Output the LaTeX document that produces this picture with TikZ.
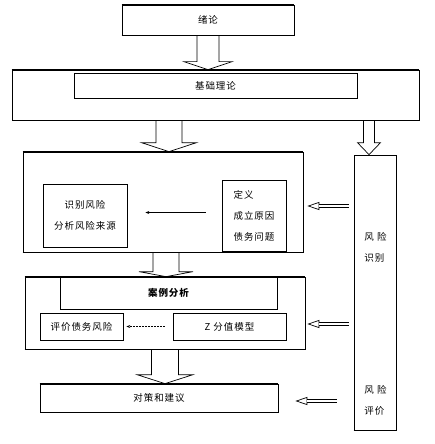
\documentclass[tikz,border=0pt]{standalone}
\usepackage{fontspec}
\setmainfont{Noto Sans CJK SC}[LetterSpace=10]
\usetikzlibrary{arrows.meta}

\newcommand{\diagfont}{\fontsize{9.5}{21}\selectfont}

\tikzset{
  box/.style={draw, line width=0.7pt, inner sep=0pt, font=\diagfont, align=center},
  txt/.style={inner sep=0pt, font=\diagfont, align=left},
  rim/.style={line width=1.6pt},
  blockarrow/.style={draw, line width=0.7pt},
  openhead/.style={line width=0.7pt, -{Triangle[open, length=12pt, width=8pt]}},
  dblshaft/.style={line width=1.2pt, double, double distance=1.2pt},
  thinarrow/.style={line width=0.5pt, -{Stealth[length=4pt, width=3pt]}},
}

% x, from node, to node, shaft half width, head half width, head length
\newcommand{\blockdown}[6]{%
  \coordinate (bs) at (#2.south -| #1, 0);
  \coordinate (bt) at (#3.north -| #1, 0);
  \draw[blockarrow] ([xshift=-#4pt]bs) -- ([xshift=-#4pt, yshift=#6pt]bt)
    -- ([xshift=-#5pt, yshift=#6pt]bt) -- (bt) -- ([xshift=#5pt, yshift=#6pt]bt)
    -- ([xshift=#4pt, yshift=#6pt]bt) -- ([xshift=#4pt]bs);
}

\begin{document}
\begin{tikzpicture}[x=1pt, y=-1pt]
  \useasboundingbox (0, 0) rectangle (434, 444);
  % boxes
  \node[box, minimum width=172pt, minimum height=30pt] (intro) at (208, 20) {绪论};
  \node[box, minimum width=407pt, minimum height=50pt] (base) at (215.5, 95) {};
  \node[box, minimum width=283pt, minimum height=25pt] (basein) at (215.5, 85.5) {基础理论};
  \node[box, minimum width=280pt, minimum height=100pt] (main) at (163, 202) {};
  \node[box, minimum width=84pt, minimum height=63pt] (ident) at (85, 215.5) {识别风险\\分析风险来源};
  \node[box, align=left, minimum width=64pt, minimum height=71pt] (defn) at (254, 215.5) {定义\\成立原因\\债务问题};
  \node[box, minimum width=42pt, minimum height=275pt] (risk) at (375, 292.5) {};
  \node[txt] (riskid) at (375.5, 247.5) {风 险\\识别};
  \node[txt] (riskev) at (375.5, 400.5) {风 险\\评价};
  \node[box, minimum width=280pt, minimum height=72pt] (case) at (165, 313) {};
  \node[box, minimum width=217pt, minimum height=32pt, font=\diagfont\bfseries] (casein) at (168.5, 293) {案例分析};
  \node[box, minimum width=83pt, minimum height=27pt] (eval) at (81.5, 326.5) {评价债务风险};
  \node[box, minimum width=113pt, minimum height=27pt] (zmodel) at (229.5, 326.5) {Z 分值模型};
  \node[box, minimum width=238pt, minimum height=28pt] (plan) at (159, 398) {对策和建议};

  % block arrows
  \blockdown{208}{intro}{base}{11}{24}{8}
  \blockdown{169}{base}{main}{13}{27.5}{9}
  \blockdown{369}{base}{risk}{5.5}{11.5}{12}
  \blockdown{166}{main}{case}{13}{27}{5}
  \blockdown{165}{case}{plan}{13.5}{28}{9}

  % heavy edges
  \foreach \a/\b in {intro.north west/intro.north east, intro.south west/intro.south east,
      base.north west/base.north east, main.north west/main.north east,
      main.south west/main.south east, case.north west/case.north east,
      case.south west/case.south east, plan.north west/plan.north east,
      risk.south west/risk.south east}
    \draw[rim] (\a) -- (\b);

  % arrows from the risk column
  \coordinate (m1) at ([yshift=-4pt]main.east);
  \coordinate (m2) at ([yshift=-11pt]case.east);
  \coordinate (m3) at ([yshift=-3pt]plan.east);
  \draw[openhead, shorten <=5pt, shorten >=4pt] (risk.west |- m1) -- (m1);
  \draw[dblshaft, shorten <=5pt, shorten >=16pt] (risk.west |- m1) -- (m1);
  \draw[openhead, shorten <=5pt, shorten >=2pt] (risk.west |- m2) -- (m2);
  \draw[dblshaft, shorten <=5pt, shorten >=14pt] (risk.west |- m2) -- (m2);
  \draw[openhead, shorten <=17pt, shorten >=17pt] (risk.west |- m3) -- (m3);
  \draw[dblshaft, shorten <=17pt, shorten >=29pt] (risk.west |- m3) -- (m3);

  % inner arrows
  \draw[thinarrow, shorten <=16pt, shorten >=18pt] ([yshift=3pt]defn.west) -- ([yshift=3pt]ident.east);
  \draw[thinarrow, densely dotted, shorten <=8pt, shorten >=3pt] (zmodel.west) -- (eval.east);
\end{tikzpicture}
\end{document}
